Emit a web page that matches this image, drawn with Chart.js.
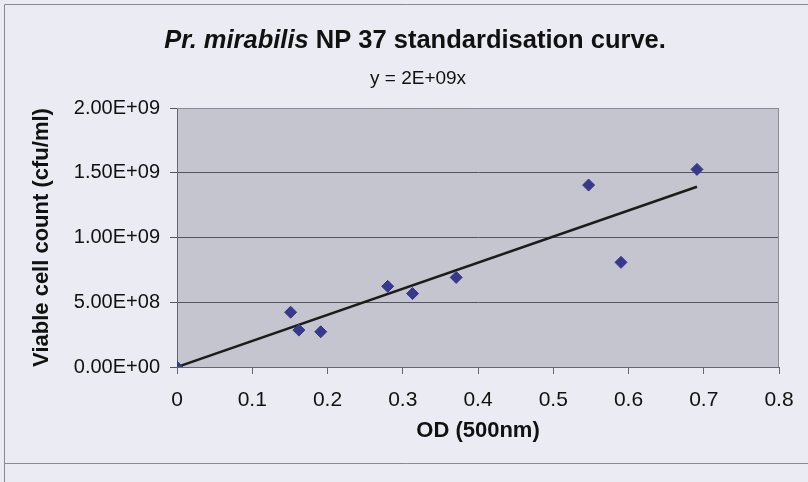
<!DOCTYPE html>
<html>
<head>
<meta charset="utf-8">
<script src="https://cdn.jsdelivr.net/npm/chart.js@4.4.1/dist/chart.umd.min.js"></script>
<style>
  html, body { margin: 0; padding: 0; background: #ebebf3; }
  #wrap { width: 808px; height: 482px; position: relative; }
</style>
</head>
<body>
<div id="wrap"><canvas id="chart"></canvas></div>
<script>
// OD readings and viable counts
const odValues = [0, 0.151, 0.162, 0.191, 0.280, 0.313, 0.371, 0.547, 0.590, 0.691];
const cellCounts = [0, 4.23e8, 2.85e8, 2.72e8, 6.23e8, 5.67e8, 6.92e8, 1.405e9, 8.08e8, 1.526e9];

// linear trendline (through origin) end points
const trendOD = [0, 0.691];
const trendCount = [0, 1.392e9];

const xTickLabels = ['0', '0.1', '0.2', '0.3', '0.4', '0.5', '0.6', '0.7', '0.8'];
const yTickLabels = ['0.00E+00', '5.00E+08', '1.00E+09', '1.50E+09', '2.00E+09'];

const titleItalic = 'Pr. mirabilis';
const titleRest = ' NP 37 standardisation curve.';
const equationText = 'y = 2E+09x';
const xAxisTitle = 'OD (500nm)';
const yAxisTitle = 'Viable cell count (cfu/ml)';

const FONT = '"Liberation Sans", Arial, sans-serif';

const toPoints = (xs, ys) => xs.map((x, i) => ({ x, y: ys[i] }));

// background, plot fill, frame and the header text
const decorPlugin = {
  id: 'decor',
  beforeDraw(chart) {
    const { ctx, chartArea: a, width, height } = chart;
    ctx.save();
    ctx.fillStyle = '#ebebf3';
    ctx.fillRect(0, 0, width, height);
    ctx.fillStyle = '#c5c5cf';
    ctx.fillRect(a.left, a.top, a.right - a.left, a.bottom - a.top);

    // outer frame (left, top, bottom)
    ctx.strokeStyle = '#8a8a92';
    ctx.lineWidth = 1;
    ctx.beginPath();
    ctx.moveTo(4.5, 482);
    ctx.lineTo(4.5, 4.5);
    ctx.lineTo(808, 4.5);
    ctx.moveTo(4.5, 463.5);
    ctx.lineTo(808, 463.5);
    ctx.stroke();

    // title, mixed italic / upright
    ctx.fillStyle = '#111';
    ctx.textBaseline = 'alphabetic';
    ctx.font = 'italic bold 25.5px ' + FONT;
    const w1 = ctx.measureText(titleItalic).width;
    ctx.font = 'bold 25.5px ' + FONT;
    const w2 = ctx.measureText(titleRest).width;
    let x = 415 - (w1 + w2) / 2;
    ctx.font = 'italic bold 25.5px ' + FONT;
    ctx.fillText(titleItalic, x, 48);
    ctx.font = 'bold 25.5px ' + FONT;
    ctx.fillText(titleRest, x + w1, 48);

    ctx.font = '19px ' + FONT;
    ctx.textAlign = 'left';
    ctx.fillText(equationText, 370, 84);
    ctx.restore();
  },
  beforeDatasetsDraw(chart) {
    const { ctx, chartArea: a } = chart;
    ctx.save();
    ctx.strokeStyle = '#8c8c96';
    ctx.lineWidth = 1;
    ctx.beginPath();
    ctx.moveTo(a.left, a.top + 0.5);
    ctx.lineTo(a.right - 0.5, a.top + 0.5);
    ctx.lineTo(a.right - 0.5, a.bottom);
    ctx.stroke();
    ctx.restore();
  }
};

new Chart(document.getElementById('chart').getContext('2d'), {
  type: 'scatter',
  data: {
    datasets: [
      {
        label: 'Counts',
        data: toPoints(odValues, cellCounts),
        pointStyle: 'rectRot',
        pointRadius: 6,
        backgroundColor: '#38388c',
        borderColor: '#38388c',
        borderWidth: 1,
      },
      {
        type: 'line',
        label: 'Trend',
        data: toPoints(trendOD, trendCount),
        borderColor: '#1c1c1c',
        borderWidth: 2.5,
        pointRadius: 0,
        fill: false,
      },
    ],
  },
  options: {
    responsive: true,
    maintainAspectRatio: false,
    animation: false,
    layout: {
      padding: { top: 108, right: 29, left: 20, bottom: 19 },
    },
    plugins: {
      legend: { display: false },
      tooltip: { enabled: false },
      title: { display: false },
    },
    scales: {
      x: {
        type: 'linear',
        min: 0,
        max: 0.8,
        afterFit: (scale) => { scale.height = 96; },
        border: { display: true, color: '#666670', width: 1 },
        grid: {
          display: true,
          drawOnChartArea: false,
          drawTicks: true,
          tickLength: 7,
          color: '#666670',
        },
        ticks: {
          stepSize: 0.1,
          padding: 14,
          color: '#111',
          font: { family: FONT, size: 21 },
          callback: (v, i) => xTickLabels[i],
          maxRotation: 0,
        },
        title: {
          display: true,
          text: xAxisTitle,
          color: '#111',
          font: { family: FONT, size: 22, weight: 'bold' },
          padding: { top: 0, bottom: 19 },
        },
      },
      y: {
        type: 'linear',
        min: 0,
        max: 2e9,
        afterFit: (scale) => { scale.width = 157; },
        border: { display: true, color: '#666670', width: 1 },
        grid: {
          color: '#55555f',
          lineWidth: 1,
          drawTicks: true,
          tickLength: 7,
        },
        ticks: {
          stepSize: 5e8,
          padding: 10,
          color: '#111',
          font: { family: FONT, size: 20 },
          callback: (v, i) => yTickLabels[i],
        },
        title: {
          display: true,
          text: yAxisTitle,
          color: '#111',
          font: { family: FONT, size: 22, weight: 'bold' },
          padding: { top: 9, bottom: 0 },
        },
      },
    },
  },
  plugins: [decorPlugin],
});
</script>
</body>
</html>
